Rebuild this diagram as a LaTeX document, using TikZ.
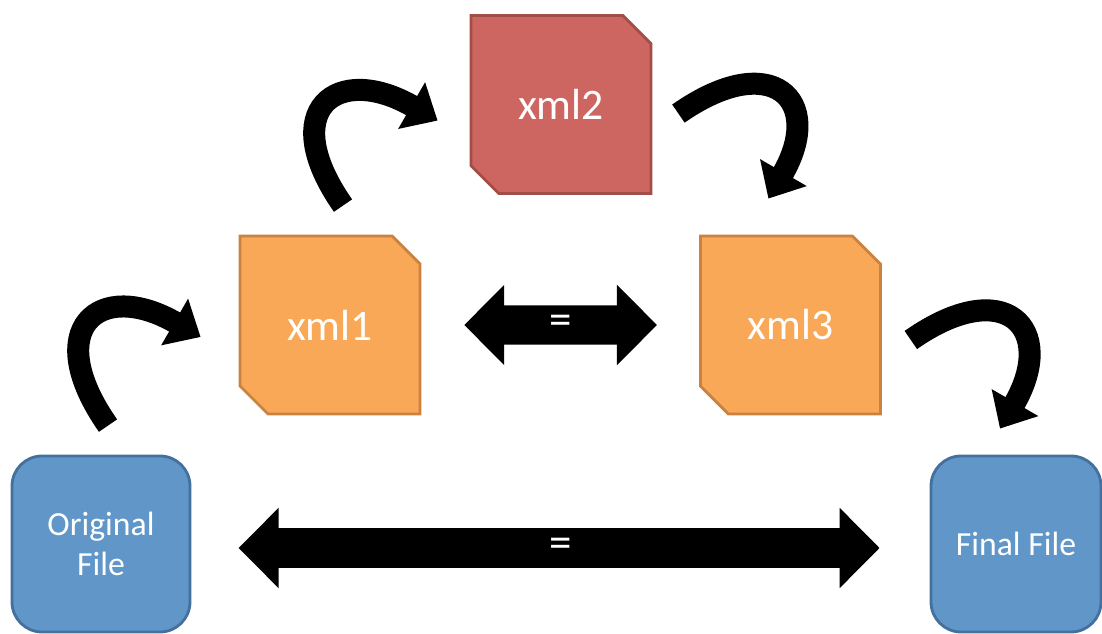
\documentclass[tikz,border=0pt]{standalone}
\usepackage{fontspec}
\setmainfont{Carlito}
\usetikzlibrary{arrows.meta,shapes.misc}
\definecolor{xmlred}{HTML}{CD6660}
\definecolor{xmlredline}{HTML}{A14E48}
\definecolor{xmlorange}{HTML}{F8A857}
\definecolor{xmlorangeline}{HTML}{C9823F}
\definecolor{fileblue}{HTML}{6096C8}
\definecolor{fileblueline}{HTML}{44709E}

\begin{document}
\begin{tikzpicture}[
    every node/.style={font=\fontsize{24}{29}\selectfont, text=white},
    xmlbox/.style={chamfered rectangle, chamfered rectangle corners={north east, south west},
        chamfered rectangle xsep=0.35cm, chamfered rectangle ysep=0.35cm,
        line width=2pt, minimum width=4.5cm, minimum height=4.45cm, inner sep=0pt,
        font=\fontsize{31}{36}\selectfont},
    filebox/.style={rectangle, rounded corners=0.75cm, draw=fileblueline, fill=fileblue,
        line width=2pt, minimum height=4.4cm, align=center},
    bendarrow/.style={-{Triangle[length=0.75cm, width=1.3cm]}, line width=0.55cm},
    equalarrow/.style={{Triangle[length=1cm, width=1.95cm]}-{Triangle[length=1cm, width=1.95cm]},
        line width=0.98cm},
    eqsign/.style={font=\fontsize{32}{36}\selectfont},
]
\useasboundingbox (0,0) rectangle (27.55,15.825);

% xml stages
\node[xmlbox, draw=xmlredline, fill=xmlred] (xml2) at (14.025, 13.21) {xml2};
\node[xmlbox, draw=xmlorangeline, fill=xmlorange] (xml1) at (8.25, 7.7) {xml1};
\node[xmlbox, draw=xmlorangeline, fill=xmlorange] (xml3) at (19.76, 7.7) {xml3};

% files
\node[filebox, minimum width=4.45cm] (orig) at (2.525, 2.225) {Original\\File};
\node[filebox, minimum width=4.25cm] (final) at (25.4, 2.225) {Final File};

% curved arrows
\draw[bendarrow] ([xshift=0.175cm, yshift=0.725cm]orig.north)
    to[out=125, in=150, looseness=2.35] ([xshift=-0.95cm, yshift=-0.3cm]xml1.west);
\draw[bendarrow] ([xshift=0.325cm, yshift=0.725cm]xml1.north)
    to[out=125, in=150, looseness=2.35] ([xshift=-0.8cm, yshift=-0.4cm]xml2.west);
\draw[bendarrow] ([xshift=0.65cm, yshift=-0.225cm]xml2.east)
    to[out=35, in=60, looseness=2.35] ([xshift=-0.55cm, yshift=0.9cm]xml3.north);
\draw[bendarrow] ([xshift=0.725cm, yshift=-0.375cm]xml3.east)
    to[out=35, in=60, looseness=2.35] ([xshift=-0.4cm, yshift=0.65cm]final.north);

% equality arrows
\draw[equalarrow, shorten <=1.07cm, shorten >=1.05cm] (xml1) -- (xml3) node[midway, eqsign] {=};
\draw[equalarrow, shorten <=1.18cm, shorten >=1.25cm] ([yshift=-0.1cm]orig.east) -- ([yshift=-0.1cm]final.west) node[midway, eqsign] {=};

\end{tikzpicture}
\end{document}
